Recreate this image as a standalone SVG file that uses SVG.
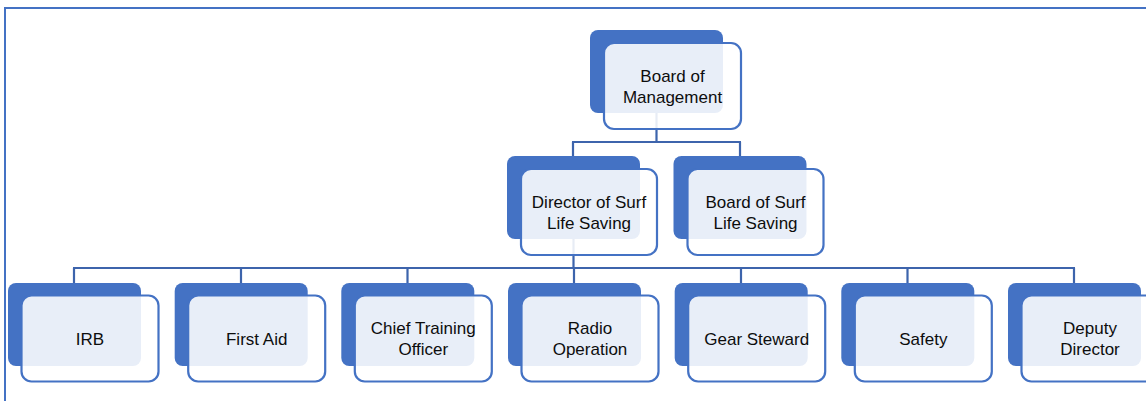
<svg xmlns="http://www.w3.org/2000/svg" width="1146" height="401" viewBox="0 0 1146 401">
<style>
.back{fill:#4472C4;}
.front{fill:#FFFFFF;fill-opacity:0.88;stroke:#4472C4;stroke-width:2.2;}
.conn{fill:none;stroke:#3D64AC;stroke-width:2.2;}
.frame{fill:none;stroke:#4472C4;stroke-width:2;}
text{font-family:"Liberation Sans",Arial,sans-serif;font-size:17px;fill:#0D0D0D;text-anchor:middle;}
</style>
<rect x="0" y="0" width="1146" height="401" fill="#FFFFFF"/>
<path class="frame" d="M5,401 V8 H1146"/>
<g id="connectors">
<path class="conn" d="M656.5,113 V142 M572,142 H741 M573,142 V156 M740,142 V156"/>
<path class="conn" d="M573.5,239 V268 M73,268 H1075 M74,268 V283 M241,268 V283 M407.5,268 V283 M574,268 V283 M741,268 V283 M907.5,268 V283 M1074,268 V283"/>
</g>
<g id="board-of-management">
<rect class="back" x="590" y="30" width="133" height="83" rx="8"/>
<rect class="front" x="604" y="43" width="137" height="86" rx="10"/>
<text x="672.5" y="82">Board of</text>
<text x="672.5" y="103">Management</text>
</g>
<g id="director-of-surf-life-saving">
<rect class="back" x="507" y="156" width="133" height="83" rx="8"/>
<rect class="front" x="521" y="169" width="136" height="86" rx="10"/>
<text x="589" y="208">Director of Surf</text>
<text x="589" y="228.5">Life Saving</text>
</g>
<g id="board-of-surf-life-saving">
<rect class="back" x="673.5" y="156" width="133" height="83" rx="8"/>
<rect class="front" x="687.5" y="169" width="136" height="86" rx="10"/>
<text x="755.5" y="208">Board of Surf</text>
<text x="755.5" y="228.5">Life Saving</text>
</g>
<g id="irb">
<rect class="back" x="8" y="283" width="133" height="83" rx="8"/>
<rect class="front" x="21.5" y="295.5" width="137" height="86" rx="10"/>
<text x="90" y="344.5">IRB</text>
</g>
<g id="first-aid">
<rect class="back" x="174.7" y="283" width="133" height="83" rx="8"/>
<rect class="front" x="188.2" y="295.5" width="137" height="86" rx="10"/>
<text x="256.7" y="344.5">First Aid</text>
</g>
<g id="chief-training-officer">
<rect class="back" x="341.3" y="283" width="133" height="83" rx="8"/>
<rect class="front" x="354.8" y="295.5" width="137" height="86" rx="10"/>
<text x="423.3" y="334">Chief Training</text>
<text x="423.3" y="355">Officer</text>
</g>
<g id="radio-operation">
<rect class="back" x="508" y="283" width="133" height="83" rx="8"/>
<rect class="front" x="521.5" y="295.5" width="137" height="86" rx="10"/>
<text x="590" y="334">Radio</text>
<text x="590" y="355">Operation</text>
</g>
<g id="gear-steward">
<rect class="back" x="674.7" y="283" width="133" height="83" rx="8"/>
<rect class="front" x="688.2" y="295.5" width="137" height="86" rx="10"/>
<text x="756.7" y="344.5">Gear Steward</text>
</g>
<g id="safety">
<rect class="back" x="841.3" y="283" width="133" height="83" rx="8"/>
<rect class="front" x="854.8" y="295.5" width="137" height="86" rx="10"/>
<text x="923.3" y="344.5">Safety</text>
</g>
<g id="deputy-director">
<rect class="back" x="1008" y="283" width="133" height="83" rx="8"/>
<rect class="front" x="1021.5" y="295.5" width="137" height="86" rx="10"/>
<text x="1090" y="334">Deputy</text>
<text x="1090" y="355">Director</text>
</g>
</svg>
